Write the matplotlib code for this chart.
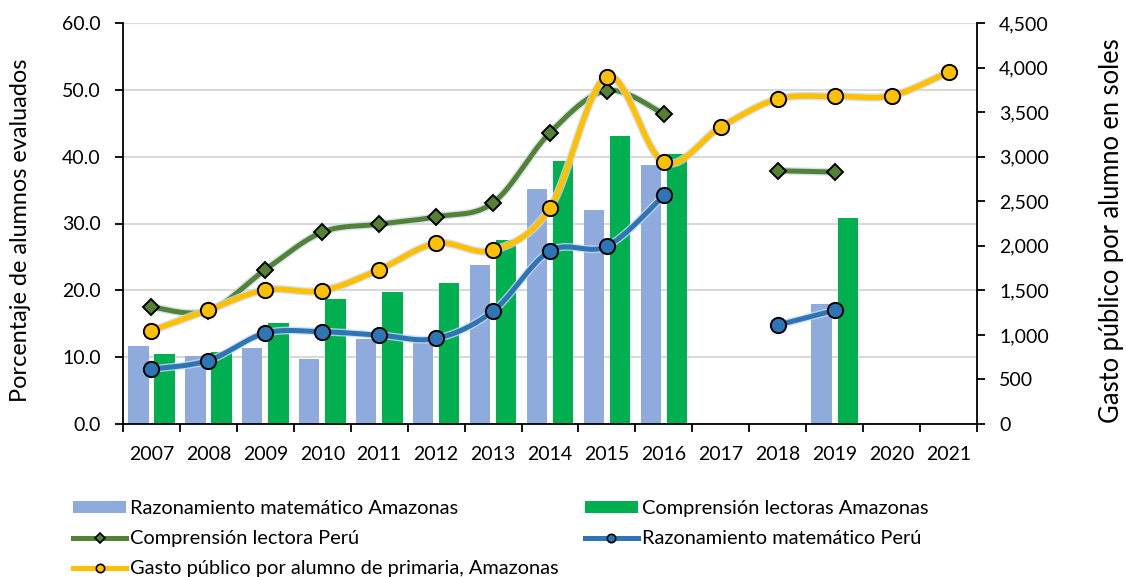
import numpy as np
import matplotlib
matplotlib.use('Agg')
import matplotlib.pyplot as plt
from matplotlib.lines import Line2D
from matplotlib.patches import Patch
import matplotlib.patheffects as pe

plt.rcParams['font.family'] = ['Lato', 'DejaVu Sans']

nan = np.nan
years = ['2007', '2008', '2009', '2010', '2011', '2012', '2013', '2014', '2015',
         '2016', '2017', '2018', '2019', '2020', '2021']
rm_amazonas = [11.7, 10.1, 11.3, 9.8, 12.7, 12.4, 23.8, 35.1, 32.0, 38.8, nan, nan, 18.0, nan, nan]
cl_amazonas = [10.4, 10.7, 15.1, 18.7, 19.7, 21.1, 27.5, 39.3, 43.1, 40.4, nan, nan, 30.8, nan, nan]
cl_peru = [17.5, 16.9, 23.1, 28.7, 29.9, 31.0, 33.1, 43.6, 49.9, 46.4, nan, 37.9, 37.7, nan, nan]
rm_peru = [8.2, 9.5, 13.6, 13.8, 13.3, 12.8, 16.9, 25.9, 26.6, 34.2, nan, 14.8, 17.0, nan, nan]
gasto = [1047, 1279, 1504, 1496, 1732, 2028, 1949, 2424, 3898, 2937, 3333, 3647, 3677, 3684, 3950]

lbl_rm_am = 'Razonamiento matemático Amazonas'
lbl_cl_am = 'Comprensión lectoras Amazonas'
lbl_cl_pe = 'Comprensión lectora Perú'
lbl_rm_pe = 'Razonamiento matemático Perú'
lbl_gasto = 'Gasto público por alumno de primaria, Amazonas'

C_BAR_BLUE = '#8FAADC'
C_BAR_GREEN = '#00B050'
C_LINE_GREEN = '#548235'
C_LINE_BLUE = '#2E75B6'
C_YELLOW = '#FFC000'
C_GLOW = '#C9DAF0'

FS = 14
FS_LEG = 14.4
W, H = 1126, 577
fig = plt.figure(figsize=(W / 100, H / 100), dpi=100)
L, R, T, B = 123, 977, 23, 424
ax = fig.add_axes([L / W, 1 - B / H, (R - L) / W, (B - T) / H])
ax2 = ax.twinx()

n = len(years)
ax.set_xlim(0, n)
ax.set_ylim(0, 60)
ax2.set_ylim(0, 4500)

centers = np.arange(n) + 0.5
bw = 0.36
ax.bar(centers - 0.23, rm_amazonas, width=bw, color=C_BAR_BLUE, zorder=2)
ax.bar(centers + 0.23, cl_amazonas, width=bw, color=C_BAR_GREEN, zorder=2)

# grid
ax.set_yticks(np.arange(0, 61, 10))
ax.yaxis.grid(True, color='#D9D9D9', linewidth=1.5, zorder=0)
ax.set_axisbelow(True)


def runs(xs, ys):
    xs = np.asarray(xs, float)
    ys = np.asarray(ys, float)
    ok = ~np.isnan(ys)
    out, cur = [], []
    for x, y, k in zip(xs, ys, ok):
        if k:
            cur.append((x, y))
        else:
            if cur:
                out.append(np.array(cur))
            cur = []
    if cur:
        out.append(np.array(cur))
    return out


def smooth(axis, pts_data):
    pts = axis.transData.transform(pts_data)
    m = len(pts)
    if m == 1:
        return pts_data
    res = [pts[0]]
    t = np.linspace(0, 1, 40)[1:, None]
    for i in range(m - 1):
        p0 = pts[i - 1] if i > 0 else pts[i]
        p1 = pts[i]
        p2 = pts[i + 1]
        p3 = pts[i + 2] if i + 2 < m else pts[i + 1]
        c1 = p1 + (p2 - p0) / 6.0
        c2 = p2 - (p3 - p1) / 6.0
        seg = (1 - t) ** 3 * p1 + 3 * (1 - t) ** 2 * t * c1 + 3 * (1 - t) * t ** 2 * c2 + t ** 3 * p2
        res.extend(seg)
    res = np.array(res)
    return axis.transData.inverted().transform(res)


def draw_series(axis, ys, color, lw, marker, ms, mfc, z):
    for run in runs(centers, ys):
        sm = smooth(axis, run)
        axis.plot(sm[:, 0], sm[:, 1], color=color, lw=lw, zorder=z, solid_capstyle='round',
                  path_effects=[pe.Stroke(linewidth=lw + 2.0, foreground=C_GLOW, alpha=0.8), pe.Normal()])
        axis.plot(run[:, 0], run[:, 1], ls='none', marker=marker, ms=ms, mfc=mfc,
                  mec='black', mew=1.4, zorder=z + 0.5)


draw_series(ax, cl_peru, C_LINE_GREEN, 3.6, 'D', 8, C_LINE_GREEN, 4)
draw_series(ax, rm_peru, C_LINE_BLUE, 3.6, 'o', 11, C_LINE_BLUE, 5)
draw_series(ax2, gasto, C_YELLOW, 4.0, 'o', 11, C_YELLOW, 6)

# x axis
ax.set_xticks(np.arange(0, n + 1))
ax.set_xticklabels([])
ax.set_xticks(centers, minor=True)
ax.set_xticklabels(years, minor=True, fontsize=FS)
ax.tick_params(axis='x', which='major', length=6, width=1.3, direction='out', color='black')
ax.tick_params(axis='x', which='minor', length=0, pad=16)

ax.set_yticklabels([f'{v:.1f}' for v in np.arange(0, 61, 10)], fontsize=FS)
ax.tick_params(axis='y', length=6, width=1.3, direction='out', pad=10)

ax2.set_yticks(np.arange(0, 4501, 500))
ax2.set_yticklabels([f'{v:,}' for v in range(0, 4501, 500)], fontsize=FS)
ax2.tick_params(axis='y', length=6, width=1.3, direction='out', pad=10)

for a in (ax, ax2):
    a.spines['top'].set_visible(False)
    for s in ('left', 'right', 'bottom'):
        a.spines[s].set_linewidth(1.3)
        a.spines[s].set_color('black')
ax.spines['right'].set_visible(False)
ax2.spines['left'].set_visible(False)
ax2.spines['bottom'].set_visible(False)

fig.text(21 / W, 1 - 230 / H, 'Porcentaje de alumnos evaluados', rotation=90,
         ha='center', va='center', fontsize=16.9)
fig.text(1112 / W, 1 - 231 / H, 'Gasto público por alumno en soles', rotation=90,
         ha='center', va='center', fontsize=18.4)

handles = [
    Patch(facecolor=C_BAR_BLUE, label=lbl_rm_am),
    Line2D([], [], color=C_LINE_GREEN, lw=3.6, marker='D', ms=5.5, mfc=C_LINE_GREEN, mec='black', mew=1.2, label=lbl_cl_pe),
    Line2D([], [], color=C_YELLOW, lw=3.6, marker='o', ms=6, mfc=C_YELLOW, mec='black', mew=1.2, label=lbl_gasto),
    Patch(facecolor=C_BAR_GREEN, label=lbl_cl_am),
    Line2D([], [], color=C_LINE_BLUE, lw=3.6, marker='o', ms=6, mfc=C_LINE_BLUE, mec='black', mew=1.2, label=lbl_rm_pe),
]
fig.legend(handles=handles, ncol=2, loc='upper left', bbox_to_anchor=(73 / W, 1 - 500 / H),
           frameon=False, fontsize=FS_LEG, handlelength=2.65, handleheight=0.55, handletextpad=0.2,
           columnspacing=1.3, labelspacing=0.66, borderpad=0, borderaxespad=0)

fig.savefig('out.png', dpi=100)
